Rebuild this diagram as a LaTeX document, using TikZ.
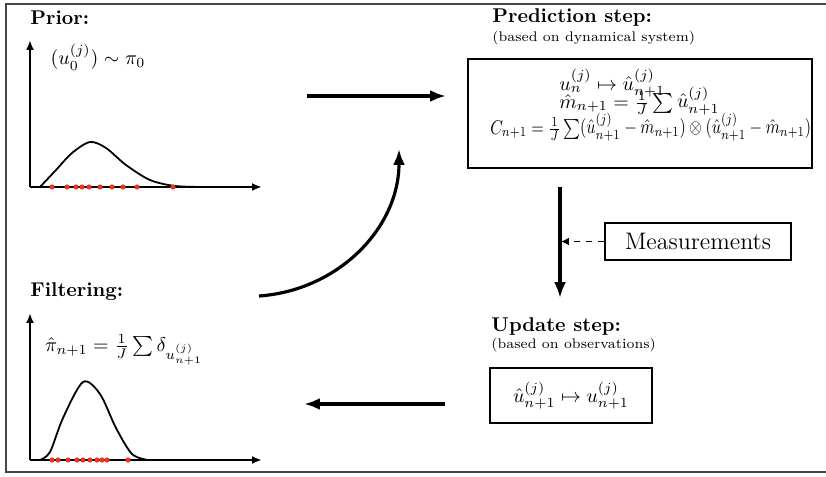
\documentclass[tikz,border=0pt]{standalone}
\usepackage{amsmath}
\usepackage{amssymb}
\usepackage{tikz}
\usepackage{xcolor}
\usetikzlibrary{shapes,arrows,arrows.meta,positioning,calc}
\definecolor{particlered}{RGB}{240,50,30}
\definecolor{framegray}{RGB}{70,70,70}

\begin{document}
\begin{tikzpicture}[x=0.01764cm,y=-0.01764cm,
    title/.style={font=\bfseries,anchor=west,inner sep=0pt},
    subtitle/.style={font=\scriptsize,anchor=west,inner sep=0pt},
    stepbox/.style={draw,line width=1pt,inner sep=0pt},
    eqline/.style={anchor=base west,inner sep=0pt},
    flow/.style={line width=1.6pt,-{Latex[length=8pt,width=6pt]}},
    axis/.style={line width=1pt,-{Latex[length=5pt,width=4pt]}}]
    \useasboundingbox (0,0) rectangle (826,477);

    % outer frame (open on the right)
    \draw[framegray,line width=1.2pt] (826,4) -- (6,4) -- (6,472) -- (826,472);

    % Prior
    \node[title] (prior) at (30,18) {Prior:};
    \draw[axis] (30,187) -- (30,40);
    \draw[axis] (30,187) -- (262,187);
    \draw[line width=0.9pt] plot[smooth] coordinates
        {(40,187) (56,170) (72,153) (90,142) (106,148) (126,165) (150,180) (175,186) (205,187)};
    \foreach \px in {52,67,76,82,89,100,112,123,137,173}
        \fill[particlered] (\px,187) circle (2.6);
    \node (priorlab) at (98,57) {$(u_0^{(j)})\sim\pi_0$};

    % Filtering
    \node[title] (filter) at (30,292) {Filtering:};
    \draw[axis] (30,460) -- (30,313);
    \draw[axis] (30,460) -- (262,460);
    \draw[line width=0.9pt] plot[smooth] coordinates
        {(40,460) (50,452) (63,418) (83,382) (100,394) (116,428) (132,454) (148,460)};
    \foreach \px in {52,58,68,77,83,90,97,102,107,128}
        \fill[particlered] (\px,460) circle (2.6);
    \node (filterlab) at (124,350) {$\hat\pi_{n+1}=\frac{1}{J}\sum\delta_{u^{(j)}_{n+1}}$};

    % Prediction step
    \node[title] (predtitle) at (492,18) {Prediction step:};
    \node[subtitle] (predsub) at (492,38) {(based on dynamical system)};
    \node[stepbox,minimum width=173pt,minimum height=54.5pt] (predbox) at (640,113.5) {};
    \node[eqline] (eqa) at (559,90) {$u_n^{(j)}\mapsto\hat u_{n+1}^{(j)}$};
    \node[eqline] (eqb) at (559,108) {$\hat m_{n+1}=\frac{1}{J}\sum\hat u_{n+1}^{(j)}$};
    \node[eqline] (eqc) at (490,134)
        {\resizebox{161pt}{\height}{$C_{n+1}=\frac{1}{J}\sum(\hat u_{n+1}^{(j)}-\hat m_{n+1})\otimes(\hat u_{n+1}^{(j)}-\hat m_{n+1})$}};

    % Measurements
    \node[stepbox,minimum width=93pt,minimum height=18.5pt,font=\large] (meas) at (698,241.5) {Measurements};

    % Update step
    \node[title] (updtitle) at (491,327) {Update step:};
    \node[subtitle] (updsub) at (491,345) {(based on observations)};
    \node[stepbox,minimum width=81pt,minimum height=27.5pt] (updbox) at (571,395.5)
        {$\hat u_{n+1}^{(j)}\mapsto u_{n+1}^{(j)}$};

    % arrows
    \coordinate (topstart) at (307,96);
    \coordinate (topend) at (446,96);
    \coordinate (curvestart) at (259,296);
    \coordinate (curveend) at (399,149);
    \coordinate (downstart) at (560,187);
    \coordinate (downend) at (560,298);
    \coordinate (measin) at (561,241.5);
    \coordinate (backstart) at (445,404);
    \coordinate (backend) at (304,404);

    \draw[flow] (topstart) -- (topend);
    \draw[flow] (curvestart) to[out=4,in=-90] (curveend);
    \draw[flow] (downstart) -- (downend);
    \draw[line width=0.9pt,dashed,-{Latex[length=4pt,width=4pt]}] (meas.west) -- (measin);
    \draw[flow] (backstart) -- (backend);
\end{tikzpicture}
\end{document}
